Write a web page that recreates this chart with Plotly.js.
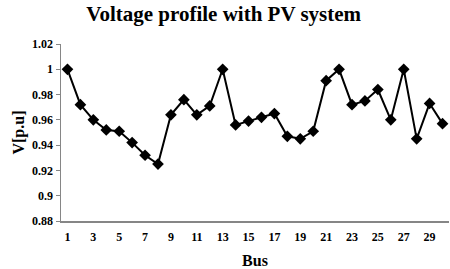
<!DOCTYPE html>
<html>
<head>
<meta charset="utf-8">
<script src="https://cdn.plot.ly/plotly-3.0.1.min.js"></script>
<style>html,body{margin:0;padding:0;background:#fff;}#chart{width:450px;height:269px;}</style>
</head>
<body>
<div id="chart"></div>
<script>
var buses = [1,2,3,4,5,6,7,8,9,10,11,12,13,14,15,16,17,18,19,20,21,22,23,24,25,26,27,28,29,30];
var voltage = [1.000,0.972,0.960,0.952,0.951,0.942,0.932,0.925,0.964,0.976,0.964,0.971,1.000,0.956,0.959,0.962,0.965,0.947,0.945,0.951,0.991,1.000,0.972,0.975,0.984,0.960,1.000,0.945,0.973,0.957];
var xTicks = [1,3,5,7,9,11,13,15,17,19,21,23,25,27,29];
var yTicks = [0.88,0.9,0.92,0.94,0.96,0.98,1,1.02];
var yTickText = ['0.88','0.9','0.92','0.94','0.96','0.98','1','1.02'];

var font = 'Liberation Serif, Times New Roman, serif';
var trace = {
  x: buses, y: voltage, type: 'scatter', mode: 'lines+markers',
  line: {color: '#000', width: 2},
  marker: {symbol: 'diamond', size: 9, color: '#000'},
  hoverinfo: 'none'
};
var layout = {
  width: 450, height: 269,
  margin: {l: 61, r: 1, t: 44, b: 48},
  paper_bgcolor: '#fff', plot_bgcolor: '#fff',
  showlegend: false,
  title: {text: '<b>Voltage profile with PV system</b>', x: 0.497, xanchor: 'center', y: 0.95, yanchor: 'middle',
          font: {family: font, size: 21, color: '#000'}},
  xaxis: {
    range: [0.5, 30.5], tickvals: xTicks, ticktext: xTicks.map(String),
    showgrid: false, zeroline: false, showline: true, linecolor: '#868686', linewidth: 1.5,
    ticks: '', ticklabelstandoff: 4, tickfont: {family: font, size: 12, color: '#000', weight: 'bold'},
    title: {text: '<b>Bus</b>', font: {family: font, size: 16, color: '#000'}, standoff: 12}
  },
  yaxis: {
    range: [0.88, 1.02], tickvals: yTicks, ticktext: yTickText,
    showgrid: false, zeroline: false, showline: true, linecolor: '#868686', linewidth: 1.5,
    ticks: 'outside', ticklen: 4, tickcolor: '#868686',
    tickfont: {family: font, size: 12, color: '#000', weight: 'bold'},
    title: {text: '<b>V[p.u]</b>', font: {family: font, size: 16, color: '#000'}, standoff: 3}
  }
};
Plotly.newPlot('chart', [trace], layout, {staticPlot: true, displayModeBar: false});
</script>
</body>
</html>
